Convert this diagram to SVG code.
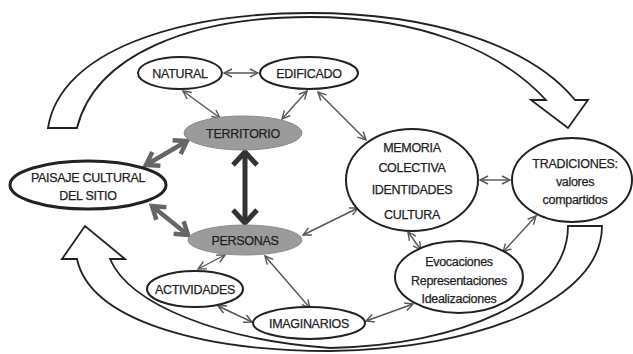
<svg xmlns="http://www.w3.org/2000/svg" width="633" height="354" viewBox="0 0 633 354">
<defs>
<style>
.n{fill:#fff;stroke:#222;stroke-width:2}
.g{fill:#9b9b9b;stroke:#8a8a8a;stroke-width:1}
.t{font-family:"Liberation Sans",Arial,sans-serif;font-size:12.5px;fill:#1e1e1e;stroke:#1e1e1e;stroke-width:0.25;text-anchor:middle;letter-spacing:-0.3px}
.c{fill:none;stroke:#555;stroke-width:1.4;marker-start:url(#m);marker-end:url(#m)}
.k{fill:none;stroke:#666;stroke-width:4.5;marker-start:url(#mg);marker-end:url(#mg)}
.big{fill:#fff;stroke:#222;stroke-width:1.8;stroke-linejoin:miter}
</style>
<marker id="m" markerUnits="userSpaceOnUse" markerWidth="10" markerHeight="10" refX="8" refY="4" orient="auto-start-reverse" overflow="visible">
<path d="M0,0 L8,4 L0,8" fill="none" stroke="#555" stroke-width="1.4"/>
</marker>
<marker id="mg" markerUnits="userSpaceOnUse" markerWidth="16" markerHeight="18" refX="12" refY="8" orient="auto-start-reverse" overflow="visible">
<path d="M0,0 L12,8 L0,16" fill="none" stroke="#666" stroke-width="4.5"/>
</marker>
<marker id="mk" markerUnits="userSpaceOnUse" markerWidth="18" markerHeight="26" refX="13" refY="12" orient="auto-start-reverse" overflow="visible">
<path d="M0,0 L13,12 L0,24" fill="none" stroke="#333" stroke-width="5"/>
</marker>
</defs>
<rect width="633" height="354" fill="#fff"/>

<g id="big-arrows">
<path class="big" d="M48,128 C60,50 180,13 310,13 C430,13 530,45 575,100 L588,100 L568,128 L531,100 L546,100 C500,50 420,17 310,17 C190,17 95,55 77,128 Z"/>
<path class="big" d="M602,226 C602,300 480,349 330,351 C200,351 90,320 77,259 L62,259 L85,226 L125,259 L110,259 C130,305 220,340 330,348 C460,345 568,300 568,226 Z"/>
</g>

<g id="connectors">
<line class="c" x1="224" y1="73" x2="258" y2="73"/>
<line class="c" x1="183" y1="91" x2="220" y2="118"/>
<line class="c" x1="307" y1="91" x2="282" y2="119"/>
<line class="c" x1="318" y1="92" x2="366" y2="140"/>
<line class="c" x1="303" y1="235" x2="358" y2="208"/>
<line class="c" x1="480" y1="180" x2="510" y2="180"/>
<line class="c" x1="408" y1="232" x2="421" y2="250"/>
<line class="c" x1="536" y1="216" x2="503" y2="252"/>
<line class="c" x1="225" y1="255" x2="198" y2="269"/>
<line class="c" x1="265" y1="256" x2="310" y2="308"/>
<line class="c" x1="218" y1="306" x2="252" y2="322"/>
<line class="c" x1="366" y1="321" x2="413" y2="304"/>
<line class="k" x1="146" y1="165" x2="187" y2="141"/>
<line class="k" x1="152" y1="206" x2="188" y2="235"/>
<line x1="245" y1="152" x2="245" y2="223" stroke="#333" stroke-width="5" marker-start="url(#mk)" marker-end="url(#mk)"/>
</g>

<g id="natural"><ellipse class="n" cx="180" cy="73" rx="42" ry="16"/><text class="t" x="180" y="77.5">NATURAL</text></g>
<g id="edificado"><ellipse class="n" cx="309" cy="73" rx="49" ry="16"/><text class="t" x="309" y="77.5">EDIFICADO</text></g>
<g id="territorio"><ellipse class="g" cx="243" cy="133" rx="59" ry="17"/><text class="t" x="243" y="137.5">TERRITORIO</text></g>
<g id="personas"><ellipse class="g" cx="245" cy="240" rx="57" ry="15"/><text class="t" x="245" y="244.5">PERSONAS</text></g>
<g id="paisaje"><ellipse class="n" cx="88" cy="185" rx="78" ry="24" style="stroke-width:3"/><text class="t" x="88" y="182">PAISAJE CULTURAL</text><text class="t" x="88" y="200">DEL SITIO</text></g>
<g id="memoria"><ellipse class="n" cx="412" cy="180" rx="66" ry="51"/><text class="t" x="412" y="152">MEMORIA</text><text class="t" x="412" y="171.5">COLECTIVA</text><text class="t" x="412" y="194">IDENTIDADES</text><text class="t" x="412" y="219">CULTURA</text></g>
<g id="tradiciones"><ellipse class="n" cx="572" cy="180" rx="60" ry="42"/><text class="t" x="575" y="167.5">TRADICIONES:</text><text class="t" x="575" y="185.5">valores</text><text class="t" x="575" y="204">compartidos</text></g>
<g id="evocaciones"><ellipse class="n" cx="459" cy="277" rx="64" ry="36"/><text class="t" x="459" y="265.5">Evocaciones</text><text class="t" x="459" y="284.5">Representaciones</text><text class="t" x="459" y="302.5">Idealizaciones</text></g>
<g id="actividades"><ellipse class="n" cx="195" cy="289" rx="48" ry="18"/><text class="t" x="195" y="293.5">ACTIVIDADES</text></g>
<g id="imaginarios"><ellipse class="n" cx="309" cy="323" rx="56" ry="16"/><text class="t" x="309" y="327.5">IMAGINARIOS</text></g>
</svg>
